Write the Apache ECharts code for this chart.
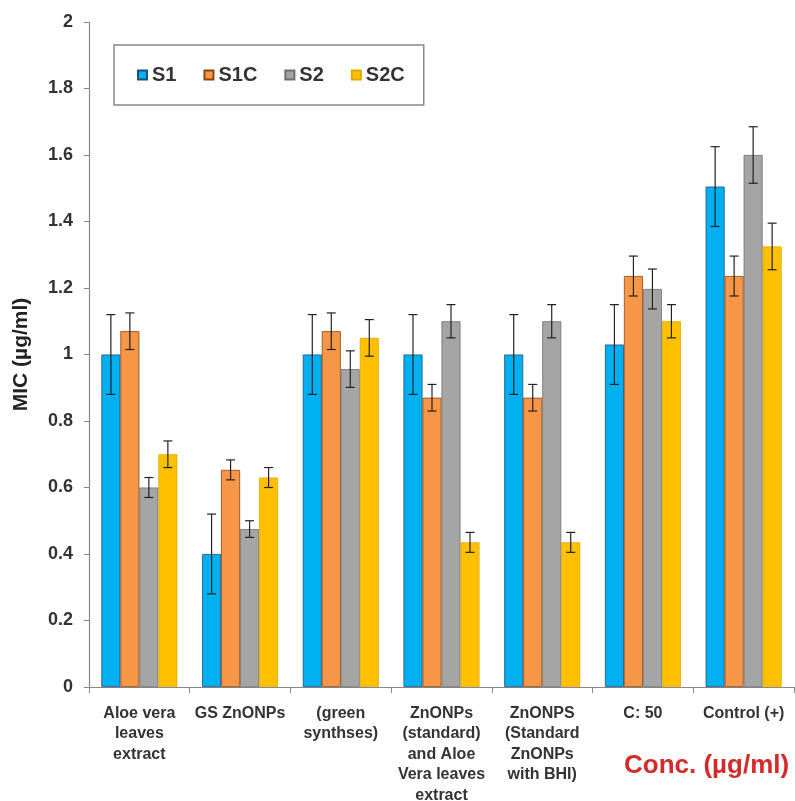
<!DOCTYPE html>
<html>
<head>
<meta charset="utf-8">
<script src="https://cdn.jsdelivr.net/npm/echarts@6/dist/echarts.min.js"></script>
<style>html,body{margin:0;padding:0;background:#fff}#c{width:795px;height:801px}</style>
</head>
<body>
<div id="c"></div>
<script>
var categories = ["Aloe vera\nleaves\nextract", "GS ZnONPs", "(green\nsynthses)", "ZnONPs\n(standard)\nand Aloe\nVera leaves\nextract", "ZnONPS\n(Standard\nZnONPs\nwith BHI)", "C: 50", "Control (+)"];
var seriesNames = ["S1", "S1C", "S2", "S2C"];
var S1 = [1.0, 0.40, 1.0, 1.0, 1.0, 1.03, 1.505];
var S1C = [1.07, 0.653, 1.07, 0.87, 0.87, 1.236, 1.236];
var S2 = [0.60, 0.475, 0.956, 1.10, 1.10, 1.197, 1.60];
var S2C = [0.70, 0.63, 1.05, 0.435, 0.435, 1.10, 1.325];
var S1err = [0.12, 0.12, 0.12, 0.12, 0.12, 0.12, 0.12];
var S1Cerr = [0.055, 0.03, 0.055, 0.04, 0.04, 0.06, 0.06];
var S2err = [0.03, 0.025, 0.055, 0.05, 0.05, 0.06, 0.085];
var S2Cerr = [0.04, 0.03, 0.055, 0.03, 0.03, 0.05, 0.07];
var yTicks = {min: 0, max: 2, interval: 0.2};

var values = [S1, S1C, S2, S2C];
var errs = [S1err, S1Cerr, S2err, S2Cerr];
var colors = ["#00B0F0", "#F79646", "#A5A5A5", "#FFC000"];
var borders = ["#1F4E79", "#8B4513", "#6E6E6E", "#E0A800"];
var BAR_W = 19;
var FONT = 'Liberation Sans, Arial, sans-serif';

var series = [];
values.forEach(function (v, i) {
  series.push({
    name: seriesNames[i], type: 'bar', data: v, barWidth: BAR_W, barGap: '0%',
    itemStyle: {color: colors[i], borderColor: borders[i], borderWidth: 0.8},
    z: 2
  });
});
values.forEach(function (v, i) {
  var d = v.map(function (val, k) { return [k, val, errs[i][k]]; });
  series.push({
    type: 'custom', name: seriesNames[i] + ' err', data: d, z: 5, silent: true,
    encode: {x: 0, y: 1},
    renderItem: function (params, api) {
      var k = api.value(0), val = api.value(1), e = api.value(2);
      var c = api.coord([k, val]);
      var x = c[0] + (i - 1.5) * BAR_W;
      var top = api.coord([k, val + e])[1];
      var bot = api.coord([k, val - e])[1];
      var cap = 4.5;
      var st = {stroke: '#222', lineWidth: 1.2};
      return {type: 'group', children: [
        {type: 'line', shape: {x1: x, y1: top, x2: x, y2: bot}, style: st},
        {type: 'line', shape: {x1: x - cap, y1: top, x2: x + cap, y2: top}, style: st},
        {type: 'line', shape: {x1: x - cap, y1: bot, x2: x + cap, y2: bot}, style: st}
      ]};
    }
  });
});

var chart = echarts.init(document.getElementById('c'));
chart.setOption({
  animation: false,
  textStyle: {fontFamily: FONT},
  title: {
    text: 'Conc. (µg/ml)', left: 624, top: 753, padding: 0,
    textStyle: {color: '#D42A2A', fontSize: 26, fontWeight: 'bold', fontFamily: FONT}
  },
  legend: {
    data: seriesNames, left: 114, top: 45, orient: 'horizontal',
    padding: [20, 19, 20, 23], itemGap: 27, itemWidth: 9, itemHeight: 9,
    borderColor: '#888', borderWidth: 1.5, icon: 'rect',
    textStyle: {fontSize: 20, fontWeight: 'bold', color: '#333', fontFamily: FONT}
  },
  grid: {left: 89, right: 1, top: 22, bottom: 114, containLabel: false, outerBoundsMode: 'none'},
  xAxis: {
    type: 'category', data: categories,
    axisLine: {lineStyle: {color: '#888', width: 1.2}},
    axisTick: {show: true, alignWithLabel: false, length: 6, lineStyle: {color: '#888'}},
    axisLabel: {interval: 0, fontSize: 16, fontWeight: 'bold', color: '#333', lineHeight: 20.5, margin: 16, fontFamily: FONT}
  },
  yAxis: {
    type: 'value', min: yTicks.min, max: yTicks.max, interval: yTicks.interval,
    name: 'MIC (µg/ml)', nameLocation: 'middle', nameGap: 57, nameRotate: 90,
    nameTextStyle: {fontSize: 21, fontWeight: 'bold', color: '#222', fontFamily: FONT},
    axisLine: {show: true, lineStyle: {color: '#888', width: 1.2}},
    axisTick: {show: true, length: 5, lineStyle: {color: '#888'}},
    splitLine: {show: false},
    axisLabel: {fontSize: 18, fontWeight: 'bold', color: '#333', margin: 16, fontFamily: FONT}
  },
  series: series
});
</script>
</body>
</html>
